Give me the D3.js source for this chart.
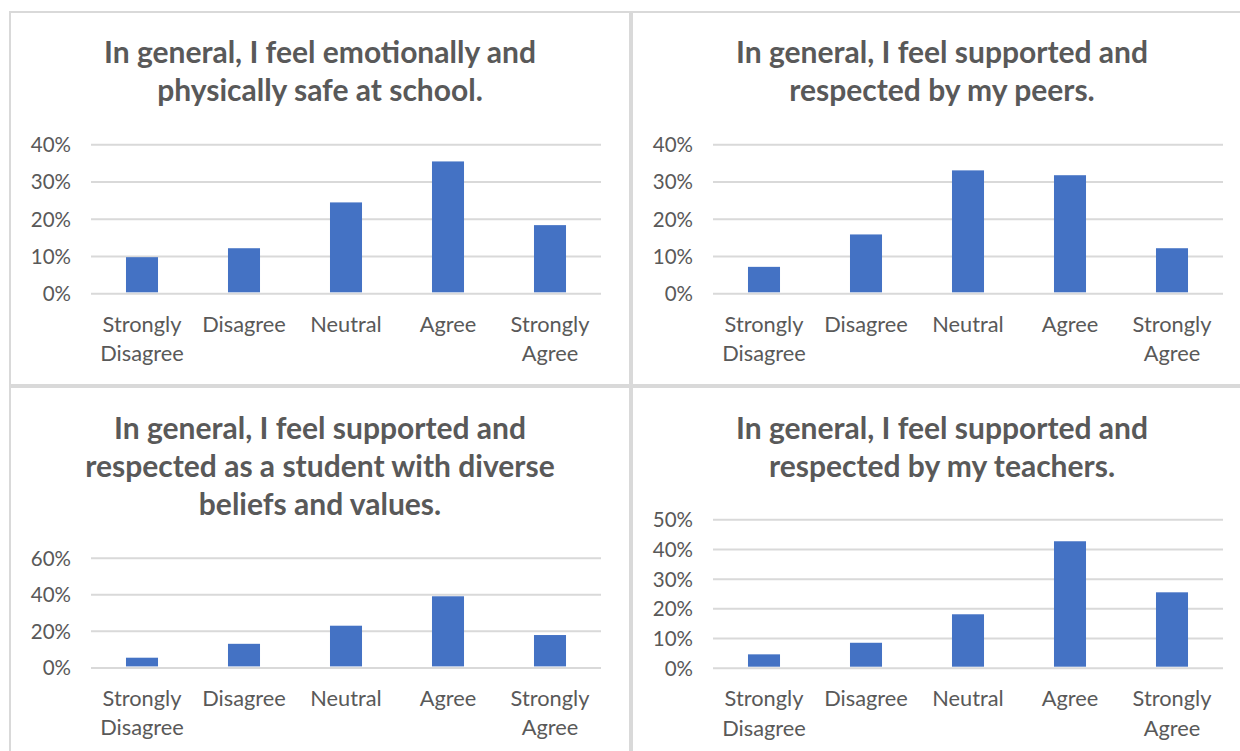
<!DOCTYPE html>
<html>
<head>
<meta charset="utf-8">
<script src="https://cdn.jsdelivr.net/npm/d3@7"></script>
<style>
  html, body { margin: 0; padding: 0; background: #ffffff; }
  svg { display: block; }
</style>
</head>
<body>
<svg id="chart" width="1240" height="751"></svg>
<script>
// ---------- data ----------
const categories = ["Strongly Disagree", "Disagree", "Neutral", "Agree", "Strongly Agree"];
const categoryLabelLines = [["Strongly", "Disagree"], ["Disagree"], ["Neutral"], ["Agree"], ["Strongly", "Agree"]];

const safeTitle = ["In general, I feel emotionally and", "physically safe at school."];
const peersTitle = ["In general, I feel supported and", "respected by my peers."];
const diverseTitle = ["In general, I feel supported and", "respected as a student with diverse", "beliefs and values."];
const teachersTitle = ["In general, I feel supported and", "respected by my teachers."];

const safeValues = [0.097, 0.121, 0.244, 0.354, 0.183];
const peersValues = [0.071, 0.158, 0.330, 0.317, 0.121];
const diverseValues = [0.053, 0.129, 0.228, 0.389, 0.177];
const teachersValues = [0.045, 0.084, 0.180, 0.426, 0.254];

const safeTicks = [0, 0.1, 0.2, 0.3, 0.4];
const peersTicks = [0, 0.1, 0.2, 0.3, 0.4];
const diverseTicks = [0, 0.2, 0.4, 0.6];
const teachersTicks = [0, 0.1, 0.2, 0.3, 0.4, 0.5];

// ---------- layout ----------
const svg = d3.select("#chart");
const FRAME = "#d9d9d9";
const TEXT = "#595959";
const BAR = "#4472c4";
const FONT = "Lato, 'Open Sans', sans-serif";

const panels = [
  { title: safeTitle, values: safeValues, ticks: safeTicks, cx: 320, titleY: 63, x0: 91, x1: 601, yTop: 144.3, yBottom: 293.3 },
  { title: peersTitle, values: peersValues, ticks: peersTicks, cx: 942, titleY: 63, x0: 713, x1: 1223, yTop: 144.3, yBottom: 293.3 },
  { title: diverseTitle, values: diverseValues, ticks: diverseTicks, cx: 320, titleY: 439, x0: 91, x1: 601, yTop: 557.7, yBottom: 667.4 },
  { title: teachersTitle, values: teachersValues, ticks: teachersTicks, cx: 942, titleY: 439, x0: 713, x1: 1223, yTop: 519.3, yBottom: 667.7 }
];

// frame lines
const frame = svg.append("g").attr("stroke", FRAME).attr("fill", "none");
frame.append("line").attr("x1", 9).attr("x2", 1240).attr("y1", 12).attr("y2", 12).attr("stroke-width", 2);
frame.append("line").attr("x1", 10).attr("x2", 10).attr("y1", 11).attr("y2", 751).attr("stroke-width", 2);
frame.append("line").attr("x1", 631).attr("x2", 631).attr("y1", 11).attr("y2", 751).attr("stroke-width", 4);
frame.append("line").attr("x1", 9).attr("x2", 1240).attr("y1", 386).attr("y2", 386).attr("stroke-width", 4);

panels.forEach(p => {
  const g = svg.append("g");

  // title
  const title = g.append("text")
    .attr("x", p.cx).attr("y", p.titleY)
    .attr("text-anchor", "middle")
    .attr("font-family", FONT).attr("font-weight", 700)
    .attr("font-size", 30).attr("fill", TEXT);
  p.title.forEach((line, i) => {
    title.append("tspan").attr("x", p.cx).attr("dy", i === 0 ? 0 : 38.2).text(line);
  });

  const maxTick = p.ticks[p.ticks.length - 1];
  const y = d3.scaleLinear().domain([0, maxTick]).range([p.yBottom, p.yTop]);
  const x = d3.scaleBand().domain(categories).range([p.x0, p.x1])
    .paddingInner(0.686).paddingOuter(0.343);

  // gridlines + tick labels
  const yAxis = d3.axisLeft(y)
    .tickValues(p.ticks)
    .tickFormat(d3.format(".0%"))
    .tickSize(-(p.x1 - p.x0))
    .tickPadding(20);
  const ag = g.append("g").attr("transform", `translate(${p.x0},0)`).call(yAxis);
  ag.select(".domain").remove();
  ag.selectAll(".tick line").attr("stroke", FRAME).attr("stroke-width", 2);
  ag.selectAll(".tick text")
    .attr("font-family", FONT).attr("font-size", 20.5).attr("fill", TEXT)
    .attr("dy", "0.36em");

  // bars
  g.append("g").selectAll("rect")
    .data(p.values)
    .join("rect")
    .attr("x", (d, i) => x(categories[i]))
    .attr("width", x.bandwidth())
    .attr("y", d => y(d))
    .attr("height", d => y(0) - y(d) - 1)
    .attr("fill", BAR);

  // category labels
  categories.forEach((c, i) => {
    const cx = x(c) + x.bandwidth() / 2;
    const t = g.append("text")
      .attr("x", cx)
      .attr("y", p.yBottom + 38.5)
      .attr("text-anchor", "middle")
      .attr("font-family", FONT).attr("font-size", 21.8).attr("fill", TEXT);
    categoryLabelLines[i].forEach((line, j) => {
      t.append("tspan").attr("x", cx).attr("dy", j === 0 ? 0 : 29.5).text(line);
    });
  });
});
</script>
</body>
</html>
